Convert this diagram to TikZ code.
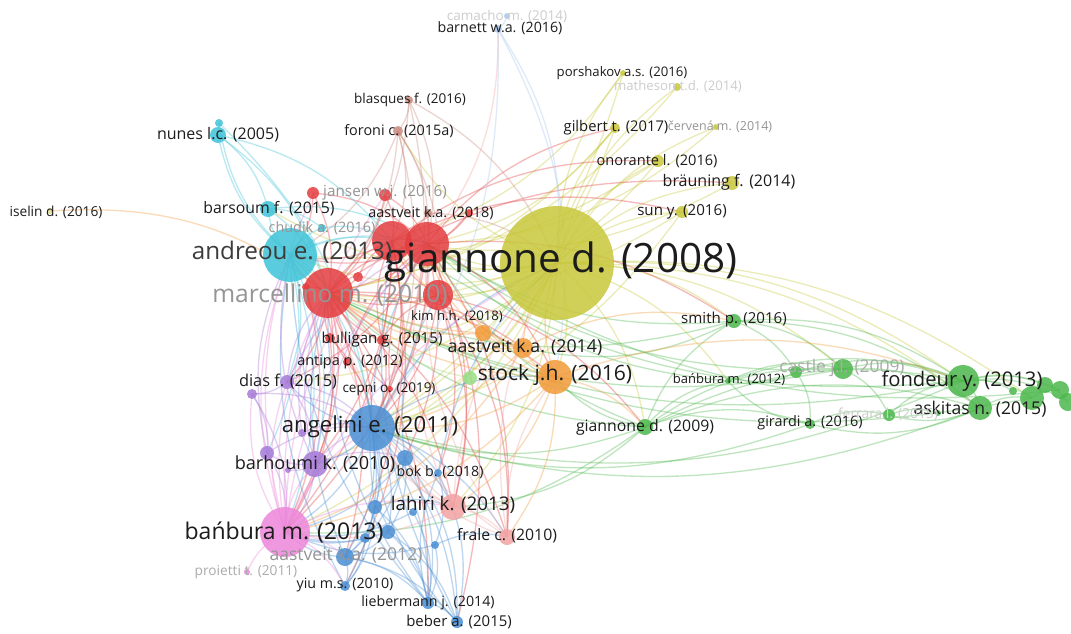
\documentclass[tikz,border=0pt]{standalone}
\usepackage{fontspec}
\setmainfont{Open Sans}
\definecolor{vyellow}{HTML}{C8C83C}
\definecolor{vpale}{HTML}{DADA8C}
\definecolor{vred}{HTML}{E43D40}
\definecolor{vbrown}{HTML}{C98A80}
\definecolor{vcyan}{HTML}{3EC4D8}
\definecolor{vblue}{HTML}{4A8FD4}
\definecolor{vlblue}{HTML}{A9C7EE}
\definecolor{vpurple}{HTML}{A67BD8}
\definecolor{vpink}{HTML}{EE87DA}
\definecolor{vorange}{HTML}{F29A38}
\definecolor{vgreen}{HTML}{4DB84D}
\definecolor{vlgreen}{HTML}{9ADF85}
\definecolor{vsalmon}{HTML}{F3A3A3}
\definecolor{vink}{HTML}{1C1C1C}
\definecolor{vdark}{HTML}{3C3C3C}
\definecolor{vgray}{HTML}{959595}
\definecolor{vlgray}{HTML}{ABABAB}
\definecolor{vfaint}{HTML}{CDCDCD}
\pgfdeclarelayer{links}
\pgfdeclarelayer{texts}
\pgfsetlayers{links,main,texts}

\begin{document}
\begin{tikzpicture}[x=0.02cm, y=-0.02cm,
  dot/.style={circle, inner sep=0pt, minimum size=#1*0.04cm, fill opacity=0.85},
  lbl/.style={inner sep=0pt, font=\fontsize{#1}{#1}\selectfont},
  link/.style={draw=#1, line width=0.75pt, draw opacity=0.36, bend left=19},
]
\useasboundingbox (0,0) rectangle (1071,633);
% items: name/x/y/radius/cluster colour, in pixels of the map
\foreach \n/\x/\y/\r/\c in {%
  gia08/557/263/57/vyellow, por16/623/73/3/vyellow, mat14/677/87/4/vyellow,
  gil17/615/128/5/vyellow, cer14/716/127/3/vyellow, ono16/658/161/6/vyellow,
  bra14/732/183/7/vyellow, sun16/682/212/6/vyellow, ise16/50/211/3/vpale,
  cam14/507/16/3/vlblue, bar16/498/29/4/vlblue,
  bla16/409/100/4/vbrown, for15/398/131/5/vbrown, aas18/428/213/4/vbrown,
  nun05/218/135/8/vcyan, nunb/219/123/4/vcyan, bars15/268/209/8/vcyan,
  chu16/322/228/4/vcyan, and13/290/255/27/vcyan,
  redA/313/193/6/vred, jan16/385/195/6/vred, redB/469/213/4/vred,
  redC/392/241/20/vred, redD/427/244/22/vred, redF/358/277/5/vred,
  mar10/328/293/25/vred, redE/438/295/15/vred, redG/306/287/4/vred,
  bulb/330/338/5/vred, bul15/382/340/5/vred, ant12/347/362/4/vred,
  cep19/390/389/3/vred,
  oraA/483/333/8/vorange, aas14/523/348/10/vorange, sto16/555/377/17/vorange,
  lgA/470/378/7/vlgreen,
  dia15/287/382/7/vpurple, purA/252/394/5/vpurple, purB/302/433/4/vpurple,
  purC/267/453/7/vpurple, bar10/315/464/13/vpurple, purD/288/470/3/vpurple,
  ang11/372/428/23/vblue, bluA/405/458/8/vblue, bok18/438/473/4/vblue,
  bluB/375/507/7/vblue, bluC/413/512/4/vblue, bluE/388/532/7/vblue,
  bluF/365/538/5/vblue, bluG/435/545/4/vblue, aas12/345/557/9/vblue,
  yiu10/345/586/5/vblue, lie14/428/603/6/vblue, beb15/457/622/6/vblue,
  ban13/285/532/25/vpink, pro11/247/572/3/vpink,
  lah13/453/507/13/vsalmon, fra10/507/537/8/vsalmon,
  gia09/645/427/8/vgreen, smi16/734/321/7/vgreen, ban12/728/381/3/vgreen,
  grA/796/372/6/vgreen, cas09/843/369/10/vgreen, gir16/810/424/5/vgreen,
  fer15/889/415/6/vgreen, grB/938/413/3/vgreen, fon13/963/381/16/vgreen,
  grG/1013/391/4/vgreen, grE/1032/398/12/vgreen, grC/1045/385/8/vgreen,
  grD/1060/390/9/vgreen, grF/1068/402/9/vgreen, ask15/980/408/12/vgreen%
} {
  \node[dot=\r, fill=\c] (\n) at (\x,\y) {};
}

\begin{pgfonlayer}{links}
\fill[white] (0,0) rectangle (1071,633);
% giannone (2008) links
\foreach \b in {por16,mat14,gil17,cer14,ono16,bra14,sun16,smi16,ban12,cas09,fon13,ask15,gia09,sto16,aas14,redD,redC,mar10,and13,ang11,ban13,lah13,bar10,bars15,for15,bul15,dia15,grE}
  \draw[link=vyellow] (gia08.center) to (\b.center);
\foreach \a/\b in {gil17/mar10,gil17/redD,por16/redC,ono16/and13,bra14/redC,sun16/ang11,mat14/mar10,ono16/redE,gil17/ang11,cer14/redD,sun16/mar10,por16/ang11}
  \draw[link=vyellow] (\a.center) to (\b.center);
% green cluster
\foreach \a/\b in {gia09/smi16,gia09/ban12,gia09/cas09,gia09/fon13,gia09/ask15,gia09/gir16,gia09/sto16,gia09/ang11,gia09/lah13,gia09/redD,gia09/mar10,gia09/ban13,
  smi16/fon13,smi16/cas09,smi16/ask15,smi16/redD,smi16/mar10,smi16/aas14,smi16/grA,
  cas09/fon13,cas09/ask15,cas09/fer15,cas09/mar10,cas09/redD,
  fon13/ask15,fon13/grE,fon13/grC,fon13/grD,fon13/grF,fon13/grG,fon13/ang11,fon13/mar10,fon13/redC,
  ask15/grE,ask15/fer15,ask15/gir16,ask15/ang11,gir16/fer15,gir16/ban12,gir16/ang11,
  ban12/cas09,ban12/fon13,ban12/redD,fer15/fon13,fer15/grB,grA/ban12,grA/gir16,grA/fon13,
  grE/grD,grC/grF,grE/mar10,grD/redD}
  \draw[link=vgreen] (\a.center) to (\b.center);
\foreach \a/\b in {lgA/gia08,lgA/ang11,lgA/mar10}
  \draw[link=vlgreen] (\a.center) to (\b.center);
% red cluster
\foreach \a/\b in {redC/redD,mar10/redC,mar10/redD,redE/redC,redE/mar10,jan16/redC,jan16/redD,jan16/mar10,
  redA/mar10,redA/redD,redA/and13,redB/redD,redB/mar10,bul15/mar10,bul15/redC,bul15/ang11,bul15/redE,
  bulb/mar10,bulb/ang11,bulb/ban13,ant12/mar10,ant12/redD,ant12/ang11,cep19/redD,cep19/mar10,cep19/ang11,
  redF/redC,redF/mar10,mar10/ang11,mar10/ban13,mar10/bar10,mar10/lah13,mar10/fra10,redD/ang11,redD/ban13,
  redD/lah13,redD/fra10,redC/ban13,redC/bar10,redC/ang11,redE/lah13,redE/ang11,redE/fra10,mar10/and13,
  redC/and13,redD/and13,redD/sto16,mar10/sto16,mar10/dia15,redD/dia15,redC/aas12,mar10/aas12,redD/bluA,
  mar10/lie14,redD/beb15,redC/yiu10,redE/bok18,redD/gil17,redC/ono16,mar10/bra14,redD/smi16,redC/sun16,
  mar10/aas14,redE/gia09,redG/mar10,redG/ban13}
  \draw[link=vred] (\a.center) to (\b.center);
\foreach \a/\b in {for15/redC,for15/redD,for15/mar10,for15/ang11,for15/redE,for15/and13,bla16/for15,bla16/redD,
  bla16/gia08,bla16/mar10,bla16/ang11,aas18/redC,aas18/ang11,aas18/gia08}
  \draw[link=vbrown] (\a.center) to (\b.center);
\foreach \a/\b in {cam14/bar16,bar16/gia08,bar16/sto16,bar16/ang11}
  \draw[link=vlblue] (\a.center) to (\b.center);
\draw[link=vsalmon] (bar16.center) to (redD.center);
% cyan cluster
\foreach \a/\b in {and13/nun05,and13/nunb,and13/bars15,and13/chu16,and13/mar10,and13/redC,and13/ang11,and13/ban13,
  and13/bar10,and13/redD,nun05/bars15,nun05/mar10,nunb/ang11,bars15/chu16,bars15/redD,bars15/mar10,chu16/redC,
  and13/purC,and13/dia15,nun05/redC}
  \draw[link=vcyan] (\a.center) to (\b.center);
% blue cluster
\foreach \a/\b in {ang11/bluA,ang11/bok18,ang11/bluB,ang11/bluE,ang11/bluF,ang11/aas12,ang11/yiu10,ang11/lie14,
  ang11/beb15,ang11/ban13,ang11/lah13,ang11/fra10,ang11/bar10,ang11/dia15,ang11/gia08,ang11/sto16,
  bluA/bluB,bluA/bluE,bluA/aas12,bluA/lie14,bluA/beb15,bluA/ban13,bluB/aas12,bluB/yiu10,bluB/lie14,bluB/bluE,
  bluB/lah13,bluE/aas12,bluE/beb15,bluE/lie14,bluE/ban13,aas12/yiu10,aas12/lie14,aas12/beb15,aas12/ban13,
  lie14/beb15,lie14/bok18,bok18/beb15,bok18/bluG,bluG/lie14,bluG/ban13,bluF/ban13,bluF/yiu10,bluC/lie14,
  bluC/ban13,aas12/mar10,bluB/redD,lie14/mar10,beb15/redC,yiu10/and13,beb15/ang11,bok18/gia08,bluA/redE,
  lie14/and13,bluG/fra10}
  \draw[link=vblue] (\a.center) to (\b.center);
% purple cluster
\foreach \a/\b in {bar10/ang11,bar10/and13,bar10/mar10,bar10/ban13,bar10/purC,bar10/purD,bar10/bluA,bar10/redD,
  dia15/ang11,dia15/purA,dia15/mar10,dia15/bar10,dia15/redD,purA/ban13,purA/ang11,purB/ang11,purB/mar10,
  purC/ban13,purC/and13,purC/ang11,purA/purC}
  \draw[link=vpurple] (\a.center) to (\b.center);
% pink cluster
\foreach \a/\b in {ban13/mar10,ban13/redD,ban13/ang11,ban13/lah13,ban13/bar10,ban13/gia08,ban13/and13,ban13/aas12,
  ban13/yiu10,ban13/dia15,ban13/redC,ban13/redA,pro11/ban13,ban13/purA,ban13/jan16}
  \draw[link=vpink] (\a.center) to (\b.center);
% orange cluster
\foreach \a/\b in {sto16/aas14,sto16/oraA,sto16/gia08,sto16/mar10,sto16/redD,sto16/ang11,sto16/lah13,sto16/ban13,
  sto16/fra10,sto16/gia09,aas14/oraA,aas14/mar10,aas14/redC,aas14/ang11,aas14/gia08,aas14/ban13,oraA/mar10,
  oraA/redD,oraA/and13,sto16/fon13,aas14/smi16}
  \draw[link=vorange] (\a.center) to (\b.center);
\draw[link=vorange, bend left=20] (ise16.center) to (mar10.center);
% lahiri / frale
\foreach \a/\b in {lah13/fra10,lah13/ang11,lah13/redD,lah13/gia08,lah13/mar10,lah13/bluA,fra10/gia08,fra10/ang11,
  fra10/redD,fra10/sto16,fra10/mar10,lah13/ban13}
  \draw[link=vsalmon] (\a.center) to (\b.center);
\end{pgfonlayer}

\begin{pgfonlayer}{texts}
% labels: name/x/y/size/colour/text
\foreach \n/\x/\y/\s/\g/\t in {%
  lgia08/561/262/23/vink/{giannone d. (2008)},
  lpor16/622/73/7.5/vink/{porshakov a.s. (2016)},
  lmat14/678/87/7.5/vfaint/{matheson t.d. (2014)},
  lgil17/616/128/8.4/vink/{gilbert t. (2017)},
  lcer14/720/127/7.1/vgray/{červená m. (2014)},
  lono16/657/161/8.3/vink/{onorante l. (2016)},
  lbra14/729/182/9.1/vink/{bräuning f. (2014)},
  lsun16/682/212/8.6/vink/{sun y. (2016)},
  lise16/56/212/7.8/vink/{iselin d. (2016)},
  lcam14/507/16/7.7/vfaint/{camacho m. (2014)},
  lbar16/500/28/8.1/vink/{barnett w.a. (2016)},
  lbla16/410/100/7.7/vink/{blasques f. (2016)},
  lfor15/399/131/8.2/vink/{foroni c. (2015a)},
  lnun05/218/135/9.1/vink/{nunes l.c. (2005)},
  lbars15/269/209/9/vink/{barsoum f. (2015)},
  lchu16/322/228/8.2/vgray/{chudik a. (2016)},
  land13/292/252/13.8/vdark/{andreou e. (2013)},
  lmar10/330/295/14/vgray/{marcellino m. (2010)},
  ljan16/385/193/8.7/vgray/{jansen w.j. (2016)},
  laas18/431/213/8.2/vink/{aastveit k.a. (2018)},
  lkim18/457/317/7.5/vink/{kim h.h. (2018)},
  lbul15/382/340/8.6/vink/{bulligan g. (2015)},
  lant12/350/362/8.2/vink/{antipa p. (2012)},
  lcep19/389/389/7.7/vink/{cepni o. (2019)},
  laas14/525/347/10.1/vink/{aastveit k.a. (2014)},
  lsto16/555/375/12/vink/{stock j.h. (2016)},
  ldia15/288/382/9.3/vink/{dias f. (2015)},
  lang11/370/427/12.6/vink/{angelini e. (2011)},
  lbar10/315/464/10.3/vink/{barhoumi k. (2010)},
  lbok18/440/472/8.1/vink/{bok b. (2018)},
  llah13/453/505/10.7/vink/{lahiri k. (2013)},
  lfra10/507/536/9/vink/{frale c. (2010)},
  lban13/284/532/13.1/vink/{bańbura m. (2013)},
  laas12/346/555/10/vgray/{aastveit k.a. (2012)},
  lpro11/246/572/7.8/vlgray/{proietti t. (2011)},
  lyiu10/345/585/8.1/vink/{yiu m.s. (2010)},
  llie14/428/603/8.1/vink/{liebermann j. (2014)},
  lbeb15/459/622/8.5/vink/{beber a. (2015)},
  lgia09/645/427/9/vink/{giannone d. (2009)},
  lsmi16/734/320/8.6/vink/{smith p. (2016)},
  lban12/729/380/7.4/vink/{bańbura m. (2012)},
  lcas09/842/368/9.9/vlgray/{castle j.l. (2009)},
  lfon13/962/381/11.5/vink/{fondeur y. (2013)},
  lask15/980/409/10/vink/{askitas n. (2015)},
  lfer15/888/414/7.9/vfaint/{ferrara l. (2015)},
  lgir16/810/423/8.2/vink/{girardi a. (2016)}%
} {
  \node[lbl=\s, text=\g] (\n) at (\x,\y) {\t};
}
\end{pgfonlayer}
\end{tikzpicture}
\end{document}
